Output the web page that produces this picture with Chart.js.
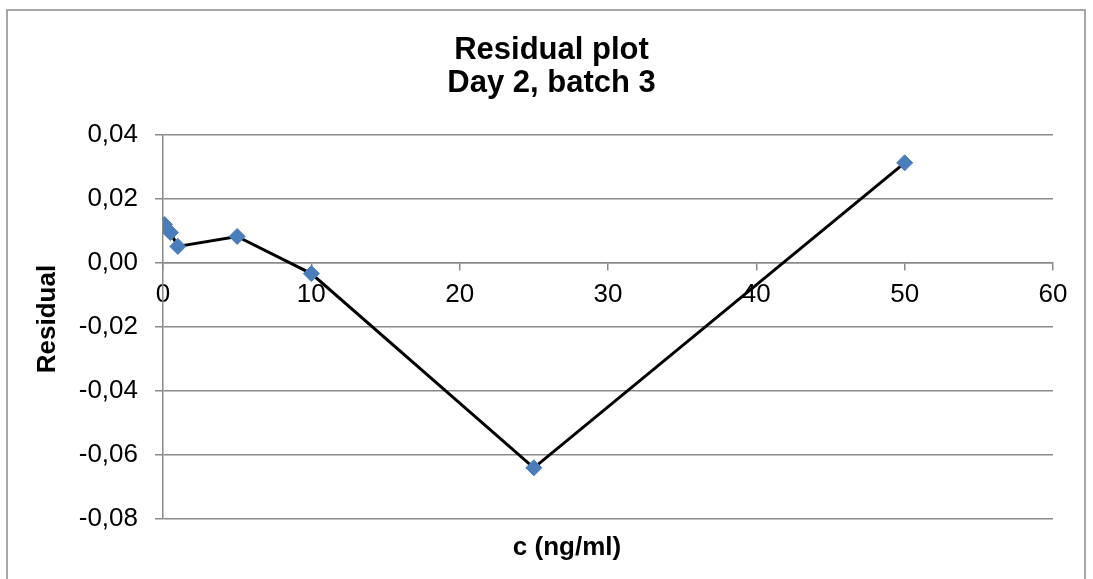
<!DOCTYPE html>
<html>
<head>
<meta charset="utf-8">
<title>Residual plot</title>
<script src="https://cdn.jsdelivr.net/npm/chart.js@4/dist/chart.umd.min.js"></script>
<style>
  html, body { margin: 0; padding: 0; background: #ffffff; }
  canvas { display: block; }
</style>
</head>
<body>
<canvas id="chart" width="1093" height="579"></canvas>
<script>
// Concentrations (ng/ml) and residuals for day 2, batch 3
const concentrations = [0.1, 0.5, 1, 5, 10, 25, 50];
const residuals = [0.0120, 0.0095, 0.0052, 0.0083, -0.0033, -0.0640, 0.0313];

// Axis ticks
const xTickValues = [0, 10, 20, 30, 40, 50, 60];
const yTickValues = [-0.08, -0.06, -0.04, -0.02, 0.00, 0.02, 0.04];

const titleLines = ['Residual plot', 'Day 2, batch 3'];
const xAxisTitle = 'c (ng/ml)';
const yAxisTitle = 'Residual';

const FONT = "'Liberation Sans', Arial, Helvetica, sans-serif";
const GRID = '#8a8a8a';

function fmtComma(v) {
  if (Math.abs(v) < 1e-9) v = 0;
  return v.toFixed(2).replace('.', ',');
}

// White background, outer frame and the two axis captions
const frameAndCaptions = {
  id: 'frameAndCaptions',
  beforeDraw(chart) {
    const ctx = chart.ctx;
    ctx.save();
    ctx.fillStyle = '#ffffff';
    ctx.fillRect(0, 0, chart.width, chart.height);
    ctx.strokeStyle = '#8a8a8a';
    ctx.lineWidth = 1.5;
    ctx.strokeRect(7, 10, 1078, 600);
    ctx.restore();
  },
  afterDraw(chart) {
    const ctx = chart.ctx;
    ctx.save();
    ctx.fillStyle = '#000000';
    ctx.font = 'bold 26px ' + FONT;
    ctx.textAlign = 'center';
    ctx.textBaseline = 'middle';
    // horizontal axis caption
    ctx.fillText(xAxisTitle, 567, 547.5);
    // vertical axis caption
    ctx.translate(48, 319);
    ctx.rotate(-Math.PI / 2);
    ctx.fillText(yAxisTitle, 0, 0);
    ctx.restore();
  }
};

new Chart(document.getElementById('chart'), {
  type: 'scatter',
  data: {
    datasets: [{
      data: concentrations.map((c, i) => ({ x: c, y: residuals[i] })),
      showLine: true,
      borderColor: '#000000',
      borderWidth: 3,
      tension: 0,
      pointStyle: 'rectRot',
      pointRadius: 8,
      pointHoverRadius: 8,
      pointBackgroundColor: '#4a7ebb',
      pointBorderColor: '#4a7ebb',
      pointBorderWidth: 1
    }]
  },
  options: {
    responsive: false,
    animation: false,
    devicePixelRatio: 1,
    layout: { padding: { left: 50, right: 40, top: 0, bottom: 60 } },
    plugins: {
      legend: { display: false },
      tooltip: { enabled: false },
      title: {
        display: true,
        text: titleLines,
        color: '#000000',
        font: { family: FONT, size: 31, weight: 'bold', lineHeight: 1.065 },
        padding: { top: 34, bottom: 35 }
      }
    },
    scales: {
      x: {
        type: 'linear',
        position: { y: 0 },
        min: 0,
        max: 60,
        afterBuildTicks(scale) {
          scale.ticks = xTickValues.map(v => ({ value: v }));
        },
        ticks: {
          color: '#000000',
          font: { family: FONT, size: 26 },
          padding: 9,
          maxRotation: 0,
          callback: v => String(v)
        },
        grid: {
          drawOnChartArea: false,
          drawTicks: true,
          tickLength: 7,
          color: GRID,
          lineWidth: 1.5
        },
        border: { display: true, color: GRID, width: 1.5 }
      },
      y: {
        type: 'linear',
        min: -0.08,
        max: 0.04,
        afterBuildTicks(scale) {
          scale.ticks = yTickValues.map(v => ({ value: v }));
        },
        afterFit(scale) {
          scale.width = 113;
        },
        ticks: {
          color: '#000000',
          font: { family: FONT, size: 26 },
          padding: 17,
          callback: v => fmtComma(v)
        },
        grid: {
          drawOnChartArea: true,
          drawTicks: true,
          tickLength: 8,
          color: GRID,
          lineWidth: 1.5
        },
        border: { display: true, color: GRID, width: 1.5 }
      }
    }
  },
  plugins: [frameAndCaptions]
});
</script>
</body>
</html>
